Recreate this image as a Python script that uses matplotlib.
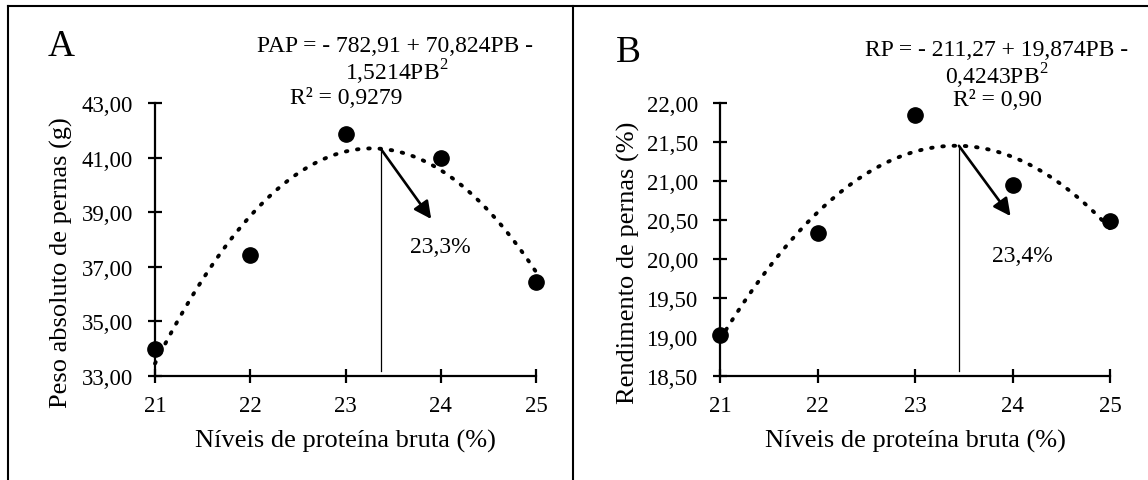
import numpy as np
import matplotlib.pyplot as plt
from matplotlib.lines import Line2D

plt.rcParams['font.family'] = ['Liberation Serif', 'DejaVu Serif']
plt.rcParams['mathtext.fontset'] = 'custom'
plt.rcParams['mathtext.rm'] = 'Liberation Serif'

niveis = [21, 22, 23, 24, 25]
pap = [34.0, 37.45, 41.87, 41.0, 36.45]
rp = [19.03, 20.33, 21.84, 20.95, 20.49]
coef_pap = [-782.91, 70.824, -1.5214]
coef_rp = [-211.27, 19.874, -0.4243]
yticks_a = [33, 35, 37, 39, 41, 43]
yticks_b = [18.5, 19.0, 19.5, 20.0, 20.5, 21.0, 21.5, 22.0]
otimo_a = 23.37
otimo_b = 23.45

W, H = 1148, 481
fig = plt.figure(figsize=(W / 100, H / 100), dpi=100)


def fx(px):
    return px / W


def fy(py):
    return 1 - py / H


# frame lines
fig.add_artist(Line2D([fx(8), 1], [fy(7), fy(7)], color='black', lw=1.5))
fig.add_artist(Line2D([fx(8), fx(8)], [0, fy(7)], color='black', lw=1.5))
fig.add_artist(Line2D([fx(573), fx(573)], [0, fy(7)], color='black', lw=1.5))


def painel(rect, y, coef, yticks, ylim, ylabel, label_x, otimo, seta_fim, rotulo, rotulo_xy):
    ax = fig.add_axes(rect)
    xs = np.linspace(21, 25, 200)
    ys = coef[0] + coef[1] * xs + coef[2] * xs ** 2
    ax.plot(xs, ys, color='black', lw=2.8, linestyle=(0, (0.4, 2.5)),
            dash_capstyle='round', clip_on=False)
    ax.plot(niveis, y, 'o', color='black', markersize=11, clip_on=False, zorder=5)
    ytop = coef[0] + coef[1] * otimo + coef[2] * otimo ** 2
    ax.plot([otimo, otimo], [ylim[0] + 0.02 * (ylim[1] - ylim[0]), ytop],
            color='black', lw=0.9)
    ax.annotate('', xy=seta_fim, xytext=(otimo, ytop),
                arrowprops=dict(arrowstyle='-|>', color='black', lw=1.9,
                                mutation_scale=26, shrinkA=0, shrinkB=0))
    ax.text(rotulo_xy[0], rotulo_xy[1], rotulo, fontsize=17, ha='center', va='center')
    ax.set_xlim(21, 25)
    ax.set_ylim(*ylim)
    ax.set_xticks(niveis)
    ax.set_yticks(yticks)
    ax.set_yticklabels([f'{v:.2f}'.replace('.', ',') for v in yticks])
    for s in ['top', 'right']:
        ax.spines[s].set_visible(False)
    for s in ['left', 'bottom']:
        ax.spines[s].set_linewidth(1.6)
    ax.tick_params(direction='inout', length=10, width=1.6, labelsize=16.5)
    ax.tick_params(axis='y', pad=11)
    ax.tick_params(axis='x', pad=9)
    ax.set_xlabel('Níveis de proteína bruta (%)', fontsize=19, labelpad=9)
    ax.set_ylabel(ylabel, fontsize=19)
    ax.yaxis.set_label_coords(label_x, 0.42)
    return ax


painel([fx(155), fy(377), fx(536) - fx(155), fy(104) - fy(377)], pap, coef_pap,
       yticks_a, (33, 43), 'Peso absoluto de pernas (g)', -0.215, otimo_a, (23.9, 38.75),
       '23,3%', (24.0, 37.75))
painel([fx(720), fy(377), fx(1110) - fx(720), fy(104) - fy(377)], rp, coef_rp,
       yticks_b, (18.5, 22.0), 'Rendimento de pernas (%)', -0.205, otimo_b, (23.98, 20.55),
       '23,4%', (24.1, 20.05))

fig.text(fx(61), fy(47), 'A', fontsize=27, ha='center', va='center')
fig.text(fx(395), fy(47), 'PAP = - 782,91 + 70,824PB -', fontsize=17, ha='center', va='center')
fig.text(fx(397), fy(72), '1,5214PB$^2$', fontsize=17, ha='center', va='center')
fig.text(fx(346), fy(98), 'R² = 0,9279', fontsize=17, ha='center', va='center')

fig.text(fx(628), fy(53), 'B', fontsize=27, ha='center', va='center')
fig.text(fx(997), fy(50), 'RP = - 211,27 + 19,874PB -', fontsize=17, ha='center', va='center')
fig.text(fx(997), fy(76), '0,4243PB$^2$', fontsize=17, ha='center', va='center')
fig.text(fx(997), fy(101), 'R² = 0,90', fontsize=17, ha='center', va='center')

fig.savefig('out.png', dpi=100)
